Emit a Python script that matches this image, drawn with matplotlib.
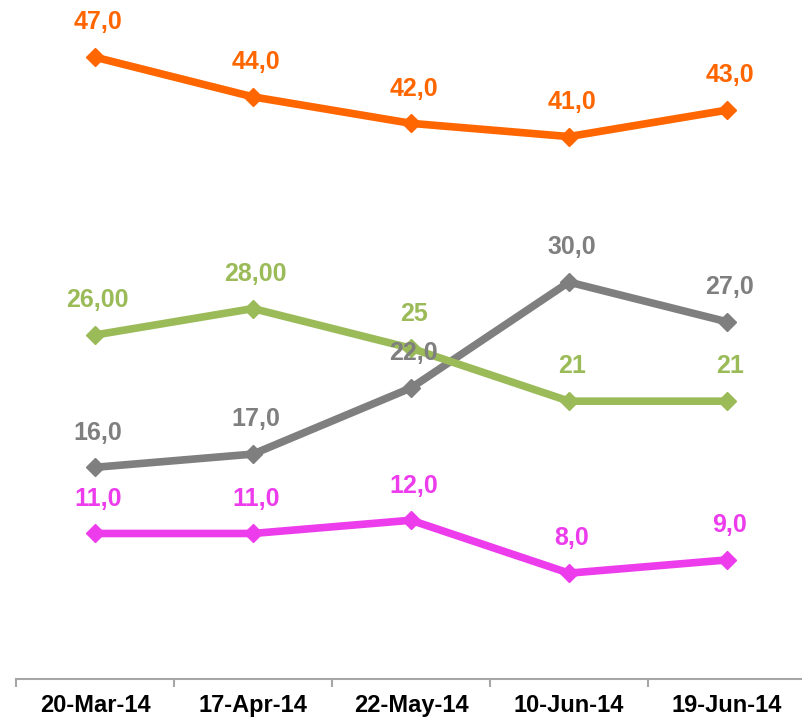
import matplotlib.pyplot as plt
import numpy as np

plt.rcParams['font.family'] = ['Liberation Sans', 'DejaVu Sans']

dates = ['20-Mar-14', '17-Apr-14', '22-May-14', '10-Jun-14', '19-Jun-14']

orange_vals = [47, 44, 42, 41, 43]
orange_txt = ['47,0', '44,0', '42,0', '41,0', '43,0']
green_vals = [26, 28, 25, 21, 21]
green_txt = ['26,00', '28,00', '25', '21', '21']
gray_vals = [16, 17, 22, 30, 27]
gray_txt = ['16,0', '17,0', '22,0', '30,0', '27,0']
pink_vals = [11, 11, 12, 8, 9]
pink_txt = ['11,0', '11,0', '12,0', '8,0', '9,0']

series = [
    (orange_vals, orange_txt, '#FF6600'),
    (gray_vals, gray_txt, '#7F7F7F'),
    (green_vals, green_txt, '#9BBB59'),
    (pink_vals, pink_txt, '#EC3CEC'),
]

fig = plt.figure(figsize=(8.02, 7.19), dpi=100)
ax = fig.add_axes([16 / 802, 40 / 719, 790 / 802, 661.5 / 719])

x = np.arange(len(dates))
for vals, txt, col in series:
    ax.plot(x, vals, color=col, lw=5.5, marker='D', ms=9, clip_on=False)
    for xi, v, t in zip(x, vals, txt):
        ax.annotate(t, (xi, v), xytext=(2, 25), textcoords='offset points',
                    ha='center', va='center', fontsize=18, fontweight='bold',
                    color=col)

ax.set_xlim(-0.5, 4.5)
ax.set_ylim(0, 50)
ax.set_yticks([])
for s in ['top', 'right', 'left']:
    ax.spines[s].set_visible(False)
ax.spines['bottom'].set_color('#A6A6A6')
ax.spines['bottom'].set_linewidth(1.5)

ax.set_xticks(x)
ax.set_xticklabels(dates, fontsize=17, fontweight='bold')
ax.tick_params(axis='x', which='major', length=0, pad=11)
ax.set_xticks(np.arange(-0.5, 5, 1), minor=True)
ax.tick_params(axis='x', which='minor', length=6, width=1.5, color='#A6A6A6')

fig.savefig('out.png', dpi=100)
